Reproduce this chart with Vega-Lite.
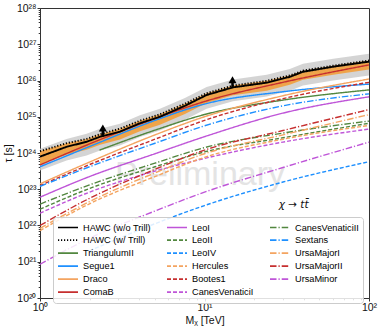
{
"$schema": "https://vega.github.io/schema/vega-lite/v6.json",
"width": 329, "height": 290,
"autosize": {"type": "none"},
"padding": {"left": 40, "top": 8, "right": 13, "bottom": 32},
"config": {
  "font": "Liberation Sans",
  "view": {"stroke": "#333333", "strokeWidth": 1},
  "axis": {"grid": false, "domainColor": "#333333", "tickColor": "#333333", "labelColor": "#111111", "titleColor": "#111111", "labelFontSize": 10.5, "titleFontSize": 10.5, "titleFontWeight": "normal", "labelOverlap": false, "labelFlush": false, "labelFont": "Liberation Sans", "titleFont": "Liberation Sans"},
  "legend": {"labelFont": "Liberation Sans"}
},
"datasets": {
  "band": [
    {"m":1,"glo":3.31e23,"ghi":1.32e24,"olo":4.79e23,"ohi":1.12e24},
    {"m":1.45,"glo":6.17e23,"ghi":2.45e24,"olo":8.91e23,"ohi":1.86e24},
    {"m":1.92,"glo":8.51e23,"ghi":3.39e24,"olo":1.23e24,"ohi":2.45e24},
    {"m":2.32,"glo":1.17e24,"ghi":4.68e24,"olo":1.70e24,"ohi":3.31e24},
    {"m":3.06,"glo":1.62e24,"ghi":6.46e24,"olo":2.34e24,"ohi":4.68e24},
    {"m":4.05,"glo":2.75e24,"ghi":1.10e25,"olo":3.98e24,"ohi":7.76e24},
    {"m":5.36,"glo":4.17e24,"ghi":1.66e25,"olo":6.03e24,"ohi":1.17e25},
    {"m":7.6,"glo":8.32e24,"ghi":3.31e25,"olo":1.20e25,"ohi":2.29e25},
    {"m":10.3,"glo":1.66e25,"ghi":6.61e25,"olo":2.40e25,"ohi":4.47e25},
    {"m":14.9,"glo":2.69e25,"ghi":1.07e26,"olo":3.89e25,"ohi":7.24e25},
    {"m":23.9,"glo":3.63e25,"ghi":1.45e26,"olo":5.25e25,"ohi":9.77e25},
    {"m":33,"glo":5.25e25,"ghi":2.09e26,"olo":7.59e25,"ohi":1.38e26},
    {"m":39.7,"glo":7.24e25,"ghi":2.88e26,"olo":1.05e26,"ohi":1.86e26},
    {"m":60.6,"glo":1.00e26,"ghi":3.98e26,"olo":1.45e26,"ohi":2.57e26},
    {"m":100,"glo":1.38e26,"ghi":5.50e26,"olo":2.00e26,"ohi":3.55e26}
  ],
  "hawc": [
    {"name":"HAWC (w/o Trill)","m":1,"t":7.94e23},
    {"name":"HAWC (w/o Trill)","m":1.45,"t":1.48e24},
    {"name":"HAWC (w/o Trill)","m":1.92,"t":2.04e24},
    {"name":"HAWC (w/o Trill)","m":2.32,"t":2.82e24},
    {"name":"HAWC (w/o Trill)","m":3.06,"t":3.89e24},
    {"name":"HAWC (w/o Trill)","m":4.05,"t":6.61e24},
    {"name":"HAWC (w/o Trill)","m":5.36,"t":1.00e25},
    {"name":"HAWC (w/o Trill)","m":7.6,"t":2.00e25},
    {"name":"HAWC (w/o Trill)","m":10.3,"t":3.98e25},
    {"name":"HAWC (w/o Trill)","m":14.9,"t":6.46e25},
    {"name":"HAWC (w/o Trill)","m":23.9,"t":8.71e25},
    {"name":"HAWC (w/o Trill)","m":33,"t":1.26e26},
    {"name":"HAWC (w/o Trill)","m":39.7,"t":1.74e26},
    {"name":"HAWC (w/o Trill)","m":60.6,"t":2.40e26},
    {"name":"HAWC (w/o Trill)","m":100,"t":3.31e26},
    {"name":"HAWC (w/ Trill)","m":1,"t":1.12e24},
    {"name":"HAWC (w/ Trill)","m":1.45,"t":1.86e24},
    {"name":"HAWC (w/ Trill)","m":1.92,"t":2.45e24},
    {"name":"HAWC (w/ Trill)","m":2.32,"t":3.31e24},
    {"name":"HAWC (w/ Trill)","m":3.06,"t":4.68e24},
    {"name":"HAWC (w/ Trill)","m":4.05,"t":7.76e24},
    {"name":"HAWC (w/ Trill)","m":5.36,"t":1.17e25},
    {"name":"HAWC (w/ Trill)","m":7.6,"t":2.29e25},
    {"name":"HAWC (w/ Trill)","m":10.3,"t":4.47e25},
    {"name":"HAWC (w/ Trill)","m":14.9,"t":7.24e25},
    {"name":"HAWC (w/ Trill)","m":23.9,"t":9.77e25},
    {"name":"HAWC (w/ Trill)","m":33,"t":1.38e26},
    {"name":"HAWC (w/ Trill)","m":39.7,"t":1.86e26},
    {"name":"HAWC (w/ Trill)","m":60.6,"t":2.57e26},
    {"name":"HAWC (w/ Trill)","m":100,"t":3.55e26}
  ],
  "dsph": [
    {"name":"ComaB","m":1,"t":4.68e23},{"name":"ComaB","m":2,"t":1.78e24},{"name":"ComaB","m":5,"t":8.91e24},{"name":"ComaB","m":10,"t":2.63e25},{"name":"ComaB","m":30,"t":8.91e25},{"name":"ComaB","m":100,"t":2.69e26},
    {"name":"Segue1","m":1,"t":4.17e23},{"name":"Segue1","m":2,"t":1.51e24},{"name":"Segue1","m":5,"t":7.94e24},{"name":"Segue1","m":10,"t":2.24e25},{"name":"Segue1","m":30,"t":4.90e25},{"name":"Segue1","m":100,"t":7.94e25},
    {"name":"TriangulumII","m":2.3,"t":1.20e24},{"name":"TriangulumII","m":5,"t":4.27e24},{"name":"TriangulumII","m":10,"t":1.15e25},{"name":"TriangulumII","m":30,"t":2.88e25},{"name":"TriangulumII","m":100,"t":5.50e25},
    {"name":"Draco","m":1,"t":1.41e23},{"name":"Draco","m":2,"t":5.62e23},{"name":"Draco","m":5,"t":3.16e24},{"name":"Draco","m":10,"t":1.00e25},{"name":"Draco","m":30,"t":3.80e25},{"name":"Draco","m":100,"t":1.10e26},
    {"name":"Bootes1","m":1,"t":1.26e23},{"name":"Bootes1","m":2,"t":4.79e23},{"name":"Bootes1","m":5,"t":2.40e24},{"name":"Bootes1","m":10,"t":7.94e24},{"name":"Bootes1","m":30,"t":3.16e25},{"name":"Bootes1","m":100,"t":8.91e25},
    {"name":"Sextans","m":1,"t":1.20e23},{"name":"Sextans","m":2,"t":4.17e23},{"name":"Sextans","m":5,"t":1.86e24},{"name":"Sextans","m":10,"t":5.62e24},{"name":"Sextans","m":30,"t":2.00e25},{"name":"Sextans","m":100,"t":4.27e25},
    {"name":"LeoI","m":1,"t":6.03e22},{"name":"LeoI","m":2,"t":2.24e23},{"name":"LeoI","m":5,"t":9.55e23},{"name":"LeoI","m":10,"t":2.82e24},{"name":"LeoI","m":30,"t":1.26e25},{"name":"LeoI","m":100,"t":3.55e25},
    {"name":"CanesVenaticiII","m":1,"t":3.89e22},{"name":"CanesVenaticiII","m":2,"t":1.32e23},{"name":"CanesVenaticiII","m":5,"t":5.25e23},{"name":"CanesVenaticiII","m":10,"t":1.41e24},{"name":"CanesVenaticiII","m":30,"t":3.55e24},{"name":"CanesVenaticiII","m":100,"t":7.59e24},
    {"name":"LeoII","m":1,"t":2.82e22},{"name":"LeoII","m":2,"t":1.05e23},{"name":"LeoII","m":5,"t":4.17e23},{"name":"LeoII","m":10,"t":1.07e24},{"name":"LeoII","m":30,"t":2.63e24},{"name":"LeoII","m":100,"t":6.61e24},
    {"name":"CanesVenaticiI","m":1,"t":2.19e22},{"name":"CanesVenaticiI","m":2,"t":8.32e22},{"name":"CanesVenaticiI","m":5,"t":3.16e23},{"name":"CanesVenaticiI","m":10,"t":7.08e23},{"name":"CanesVenaticiI","m":30,"t":2.00e24},{"name":"CanesVenaticiI","m":100,"t":4.57e24},
    {"name":"UrsaMajorII","m":1,"t":1.00e22},{"name":"UrsaMajorII","m":2,"t":5.62e22},{"name":"UrsaMajorII","m":5,"t":3.55e23},{"name":"UrsaMajorII","m":10,"t":1.20e24},{"name":"UrsaMajorII","m":30,"t":4.17e24},{"name":"UrsaMajorII","m":100,"t":1.58e25},
    {"name":"UrsaMajorI","m":1,"t":8.32e21},{"name":"UrsaMajorI","m":2,"t":4.57e22},{"name":"UrsaMajorI","m":5,"t":2.82e23},{"name":"UrsaMajorI","m":10,"t":9.55e23},{"name":"UrsaMajorI","m":30,"t":3.16e24},{"name":"UrsaMajorI","m":100,"t":1.15e25},
    {"name":"Hercules","m":1,"t":7.24e21},{"name":"Hercules","m":2,"t":3.98e22},{"name":"Hercules","m":5,"t":2.24e23},{"name":"Hercules","m":10,"t":7.59e23},{"name":"Hercules","m":30,"t":2.40e24},{"name":"Hercules","m":100,"t":5.75e24},
    {"name":"UrsaMinor","m":1,"t":8.51e20},{"name":"UrsaMinor","m":2,"t":4.47e21},{"name":"UrsaMinor","m":5,"t":2.51e22},{"name":"UrsaMinor","m":10,"t":8.32e22},{"name":"UrsaMinor","m":30,"t":3.98e23},{"name":"UrsaMinor","m":100,"t":2.00e24},
    {"name":"LeoIV","m":2,"t":2.00e21},{"name":"LeoIV","m":5,"t":1.12e22},{"name":"LeoIV","m":10,"t":3.55e22},{"name":"LeoIV","m":30,"t":1.58e23},{"name":"LeoIV","m":100,"t":5.75e23}
  ],
  "arrows": [
    {"m":2.41,"base":2.82e24,"tip":4.90e24},
    {"m":14.8,"base":6.46e25,"tip":1.05e26}
  ],
  "wm": [{"m":9.39,"t":1.31e23,"label":"Preliminary"}],
  "chi": [{"m":34.8,"t":3.04e22,"label":"χ → tt̄"}]
},
"encoding": {
  "x": {"field": "m", "type": "quantitative", "title": "Mᵪ [TeV]",
    "scale": {"type": "log", "domain": [1, 100], "nice": false},
    "axis": {"values": [1,2,3,4,5,6,7,8,9,10,20,30,40,50,60,70,80,90,100],
      "labelExpr": "datum.value==1?'10⁰':datum.value==10?'10¹':datum.value==100?'10²':''",
      "tickSize": {"condition": {"test": "datum.value==1||datum.value==10||datum.value==100", "value": 3}, "value": 1.8},
      "labelPadding": 1.5, "titlePadding": 2}}
},
"layer": [
  {"data": {"name": "wm"}, "mark": {"type": "text", "fontSize": 34, "color": "#e4e4e4", "align": "center", "baseline": "alphabetic"},
   "encoding": {"y": {"field": "t", "type": "quantitative", "title": "τ [s]",
      "scale": {"type": "log", "domain": [1e20, 1e28], "nice": false},
      "axis": {"values": [1e20,2e20,3e20,4e20,5e20,6e20,7e20,8e20,9e20,1e21,2e21,3e21,4e21,5e21,6e21,7e21,8e21,9e21,1e22,2e22,3e22,4e22,5e22,6e22,7e22,8e22,9e22,1e23,2e23,3e23,4e23,5e23,6e23,7e23,8e23,9e23,1e24,2e24,3e24,4e24,5e24,6e24,7e24,8e24,9e24,1e25,2e25,3e25,4e25,5e25,6e25,7e25,8e25,9e25,1e26,2e26,3e26,4e26,5e26,6e26,7e26,8e26,9e26,1e27,2e27,3e27,4e27,5e27,6e27,7e27,8e27,9e27,1e28],
        "labelExpr": "datum.value==1e20?'10²⁰':datum.value==1e21?'10²¹':datum.value==1e22?'10²²':datum.value==1e23?'10²³':datum.value==1e24?'10²⁴':datum.value==1e25?'10²⁵':datum.value==1e26?'10²⁶':datum.value==1e27?'10²⁷':datum.value==1e28?'10²⁸':''",
        "tickSize": {"condition": {"test": "abs(log(datum.value)/LN10-round(log(datum.value)/LN10))<0.001", "value": 3}, "value": 1.8},
        "labelPadding": 1, "titlePadding": 3}},
     "text": {"field": "label"}}},
  {"data": {"name": "band"}, "mark": {"type": "area", "color": "#cccccc", "opacity": 0.85},
   "encoding": {"y": {"field": "glo", "type": "quantitative", "title": "τ [s]"}, "y2": {"field": "ghi"}}},
  {"data": {"name": "band"}, "mark": {"type": "area", "color": "#f0a142", "opacity": 0.95},
   "encoding": {"y": {"field": "olo", "type": "quantitative", "title": "τ [s]"}, "y2": {"field": "ohi"}}},
  {"data": {"name": "dsph"}, "mark": {"type": "line", "interpolate": "monotone", "strokeWidth": 1.4},
   "encoding": {"y": {"field": "t", "type": "quantitative", "title": "τ [s]"},
     "color": {"field": "name", "type": "nominal",
       "scale": {"domain": ["HAWC (w/o Trill)","HAWC (w/ Trill)","TriangulumII","Segue1","Draco","ComaB","LeoI","LeoII","LeoIV","Hercules","Bootes1","CanesVenaticiI","CanesVenaticiII","Sextans","UrsaMajorI","UrsaMajorII","UrsaMinor"],
         "range": ["#000000","#000000","#52873f","#1e90ff","#f4a460","#c62f2f","#bf55d8","#52873f","#1e90ff","#f4a460","#c62f2f","#bf55d8","#52873f","#1e90ff","#f4a460","#c62f2f","#bf55d8"]},
       "legend": {"orient": "none", "legendX": 13, "legendY": 209, "columns": 3, "title": null, "symbolType": "stroke", "symbolSize": 400, "symbolStrokeWidth": 1.6, "labelFontSize": 9.2, "labelOffset": 4, "clipHeight": 12.3, "rowPadding": 0, "columnPadding": 15, "padding": 4, "strokeColor": "#cccccc", "fillColor": "rgba(255,255,255,0.85)", "cornerRadius": 3, "labelLimit": 200}},
     "strokeDash": {"field": "name", "type": "nominal",
       "scale": {"domain": ["HAWC (w/o Trill)","HAWC (w/ Trill)","TriangulumII","Segue1","Draco","ComaB","LeoI","LeoII","LeoIV","Hercules","Bootes1","CanesVenaticiI","CanesVenaticiII","Sextans","UrsaMajorI","UrsaMajorII","UrsaMinor"],
         "range": [[1,0],[1.2,1.8],[1,0],[1,0],[1,0],[1,0],[1,0],[4,2],[4,2],[4,2],[4,2],[4,2],[6.5,2,1.2,2],[6.5,2,1.2,2],[6.5,2,1.2,2],[6.5,2,1.2,2],[6.5,2,1.2,2]]},
       "legend": {"orient": "none", "legendX": 13, "legendY": 209, "columns": 3, "title": null, "symbolType": "stroke", "symbolSize": 400, "symbolStrokeWidth": 1.6, "labelFontSize": 9.2, "labelOffset": 4, "clipHeight": 12.3, "rowPadding": 0, "columnPadding": 15, "padding": 4, "strokeColor": "#cccccc", "fillColor": "rgba(255,255,255,0.85)", "cornerRadius": 3, "labelLimit": 200}}}},
  {"data": {"name": "hawc"}, "mark": {"type": "line", "strokeWidth": 1.9},
   "encoding": {"y": {"field": "t", "type": "quantitative", "title": "τ [s]"},
     "color": {"field": "name", "type": "nominal"},
     "strokeDash": {"field": "name", "type": "nominal"}}},
  {"data": {"name": "arrows"}, "mark": {"type": "rule", "color": "#000000", "strokeWidth": 2.5},
   "encoding": {"y": {"field": "base", "type": "quantitative", "title": "τ [s]"}, "y2": {"field": "tip"}}},
  {"data": {"name": "arrows"}, "mark": {"type": "point", "shape": "triangle-up", "filled": true, "color": "#000000", "size": 65, "opacity": 1},
   "encoding": {"y": {"field": "tip", "type": "quantitative", "title": "τ [s]"}}},
  {"data": {"name": "chi"}, "mark": {"type": "text", "fontSize": 10.5, "font": "DejaVu Sans", "fontStyle": "italic", "color": "#111111", "align": "center", "baseline": "alphabetic"},
   "encoding": {"y": {"field": "t", "type": "quantitative", "title": "τ [s]"}, "text": {"field": "label"}}}
]
}
